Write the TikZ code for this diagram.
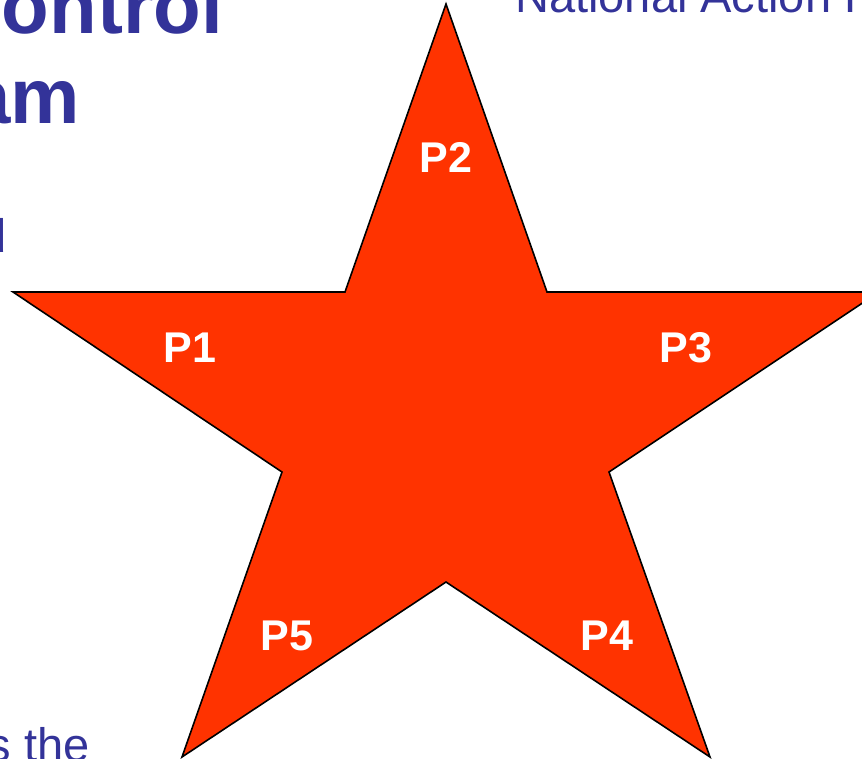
\documentclass[tikz,border=0pt]{standalone}
\usepackage{fontspec}
\setmainfont{Liberation Sans}
\usepackage{tikz}
\usetikzlibrary{positioning}
\definecolor{slideblue}{RGB}{51,51,153}
\definecolor{starred}{RGB}{255,51,0}
\tikzset{
  starbody/.style={fill=starred,draw=black,line width=1.6pt,line join=miter},
  plabel/.style={font=\fontsize{43}{43}\selectfont\bfseries,text=white,inner sep=0pt},
  titletext/.style={font=\fontsize{78}{90}\selectfont\bfseries,text=slideblue,inner sep=0pt},
  bodytext/.style={font=\fontsize{47}{54}\selectfont,text=slideblue,inner sep=0pt},
}

\begin{document}
\begin{tikzpicture}[x=1pt,y=-1pt]
\useasboundingbox (0,0) rectangle (862,758);
\clip (0,0) rectangle (862,758);

% ── Slide text, cut by the frame ─────────────────────────────────────────
\node[titletext, anchor=base east] (title1) at (223,33)  {Control};
\node[titletext, anchor=base east] (title2) at (80,123)  {am};
\node[bodytext, anchor=base east]  (bullet) at (7,252)   {d};
\node[bodytext, anchor=base east]  (foot)   at (90,761)  {s the};
\node[bodytext, anchor=base west]  (plan)   at (515,12)  {National Action Plan};

% ── Star ─────────────────────────────────────────────────────────────────
\draw[starbody] (446,4) -- (547,292) -- (879,292) -- (609,472) -- (710,757)
  -- (446,582) -- (182,757) -- (282,472) -- (13,292) -- (345,292) -- cycle;

% ── Point labels ─────────────────────────────────────────────────────────
\node[plabel] (p2) at (446,157) {P2};
\node[plabel] (p1) at (190,348) {P1};
\node[plabel] (p3) at (686,348) {P3};
\node[plabel] (p4) at (607,636) {P4};
\node[plabel] (p5) at (287,636) {P5};

\end{tikzpicture}
\end{document}
